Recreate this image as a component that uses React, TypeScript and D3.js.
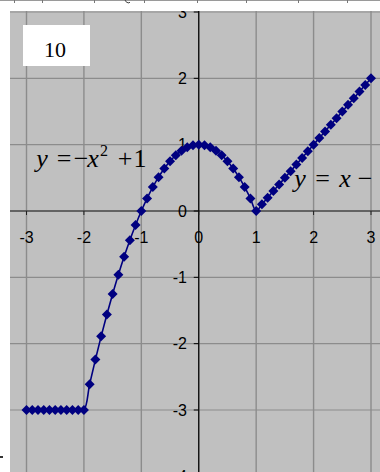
import React from "react";
import * as d3 from "d3";

// Sample abscissae (step 0.1) and the piecewise function values
const xValues = [
  -3.0, -2.9, -2.8, -2.7, -2.6, -2.5, -2.4, -2.3, -2.2, -2.1,
  -2.0, -1.9, -1.8, -1.7, -1.6, -1.5, -1.4, -1.3, -1.2, -1.1,
  -1.0, -0.9, -0.8, -0.7, -0.6, -0.5, -0.4, -0.3, -0.2, -0.1,
  0.0, 0.1, 0.2, 0.3, 0.4, 0.5, 0.6, 0.7, 0.8, 0.9,
  1.0, 1.1, 1.2, 1.3, 1.4, 1.5, 1.6, 1.7, 1.8, 1.9,
  2.0, 2.1, 2.2, 2.3, 2.4, 2.5, 2.6, 2.7, 2.8, 2.9, 3.0,
];
const yValues = [
  -3, -3, -3, -3, -3, -3, -3, -3, -3, -3,
  -3, -2.61, -2.24, -1.89, -1.56, -1.25, -0.96, -0.69, -0.44, -0.21,
  0, 0.19, 0.36, 0.51, 0.64, 0.75, 0.84, 0.91, 0.96, 0.99,
  1, 0.99, 0.96, 0.91, 0.84, 0.75, 0.64, 0.51, 0.36, 0.19,
  0, 0.1, 0.2, 0.3, 0.4, 0.5, 0.6, 0.7, 0.8, 0.9,
  1.0, 1.1, 1.2, 1.3, 1.4, 1.5, 1.6, 1.7, 1.8, 1.9, 2.0,
];
const xTicks = [-3, -2, -1, 0, 1, 2, 3];
const yTicks = [3, 2, 1, 0, -1, -2, -3, -4];
const topStripTicks = [14, 42, 94, 144, 197, 246, 298, 347];

const W = 380;
const H = 472;
const NAVY = "#000080";

// square diamond marker, 10px across
const squareDiamond: d3.SymbolType = {
  draw(context, size) {
    const r = Math.sqrt(size / 2);
    context.moveTo(0, -r);
    context.lineTo(r, 0);
    context.lineTo(0, r);
    context.lineTo(-r, 0);
    context.closePath();
  },
};

export default function App() {
  const x = d3.scaleLinear().domain([-3, 3]).range([26.5, 371]);
  const y = d3.scaleLinear().domain([-3, 3]).range([410, 12]);

  const points = xValues.map((v, i) => [v, yValues[i]] as [number, number]);
  const line = d3
    .line<[number, number]>()
    .x((d) => x(d[0]))
    .y((d) => y(d[1]))
    .curve(d3.curveCatmullRom.alpha(0.5));

  const diamond = d3.symbol().type(squareDiamond).size(50)() as string;

  const axisFont = "Liberation Sans, Arial, sans-serif";
  const mathFont = "Liberation Serif, Times New Roman, serif";

  return (
    <svg
      width={W}
      height={H}
      style={{ position: "absolute", left: 0, top: 0, background: "#ffffff" }}
    >
      <defs>
        <clipPath id="plotClip">
          <rect x={10} y={11} width={W - 10} height={H - 11} />
        </clipPath>
      </defs>

      {/* strip above the plot */}
      <line x1={0} x2={W} y1={0.5} y2={0.5} stroke="#9a9a9a" strokeWidth={1} />
      {topStripTicks.map((t) => (
        <line key={t} x1={t + 0.5} x2={t + 0.5} y1={0} y2={3} stroke="#777" />
      ))}
      <path d="M125,0 Q126,3 129,3 L130,2" fill="none" stroke="#444" strokeWidth={1} />
      <rect x={0} y={456} width={3} height={2} fill="#333" />

      <g clipPath="url(#plotClip)">
        <rect x={10} y={11} width={W - 10} height={H - 11} fill="#c0c0c0" />

        {/* gridlines */}
        {xTicks.map((t) => (
          <line
            key={"gx" + t}
            x1={x(t)}
            x2={x(t)}
            y1={11}
            y2={H}
            stroke="#8c8c8c"
            strokeWidth={1.4}
          />
        ))}
        {yTicks.map((t) => (
          <line
            key={"gy" + t}
            x1={10}
            x2={W}
            y1={y(t)}
            y2={y(t)}
            stroke="#8c8c8c"
            strokeWidth={1.2}
          />
        ))}

        {/* axes */}
        <line x1={10} x2={W} y1={y(0)} y2={y(0)} stroke="#202020" strokeWidth={1} />
        <line x1={x(0)} x2={x(0)} y1={11} y2={H} stroke="#000" strokeWidth={1.2} />
        {xTicks.map((t) => (
          <line
            key={"tx" + t}
            x1={x(t)}
            x2={x(t)}
            y1={y(0)}
            y2={y(0) + 4}
            stroke="#202020"
          />
        ))}
        {yTicks.map((t) => (
          <line
            key={"ty" + t}
            x1={x(0) - 5}
            x2={x(0)}
            y1={y(t)}
            y2={y(t)}
            stroke="#000"
          />
        ))}

        {/* tick labels */}
        {xTicks.map((t) => (
          <text
            key={"lx" + t}
            x={x(t)}
            y={y(0) + 32}
            textAnchor="middle"
            fontFamily={axisFont}
            fontSize={16}
            fill="#000"
          >
            {t}
          </text>
        ))}
        {yTicks.map((t) => (
          <text
            key={"ly" + t}
            x={187}
            y={y(t)}
            dy="0.36em"
            textAnchor="end"
            fontFamily={axisFont}
            fontSize={16}
            fill="#000"
          >
            {t}
          </text>
        ))}

        {/* series */}
        <path d={line(points) ?? ""} fill="none" stroke={NAVY} strokeWidth={1.6} />
        {points.map((p, i) => (
          <path
            key={"m" + i}
            d={diamond}
            transform={`translate(${x(p[0])},${y(p[1])})`}
            fill={NAVY}
          />
        ))}

        {/* formula annotations */}
        <g fontFamily={mathFont} fontSize={26} fill="#000" textAnchor="middle">
          <text x={42} y={167} fontStyle="italic">y</text>
          <text x={64} y={167}>=</text>
          <text x={81} y={167}>−</text>
          <text x={93} y={167} fontStyle="italic">x</text>
          <text x={104} y={156} fontSize={16}>2</text>
          <text x={125} y={167}>+</text>
          <text x={140} y={167}>1</text>

          <text x={300} y={187} fontStyle="italic">y</text>
          <text x={322.5} y={187}>=</text>
          <text x={345} y={187} fontStyle="italic">x</text>
          <text x={365} y={187}>−</text>
          <text x={388} y={187}>1</text>
        </g>

        {/* label box */}
        <rect x={23} y={25} width={67} height={41} fill="#ffffff" />
        <text x={55} y={57} textAnchor="middle" fontFamily={mathFont} fontSize={22} fill="#000">
          10
        </text>
      </g>
    </svg>
  );
}
